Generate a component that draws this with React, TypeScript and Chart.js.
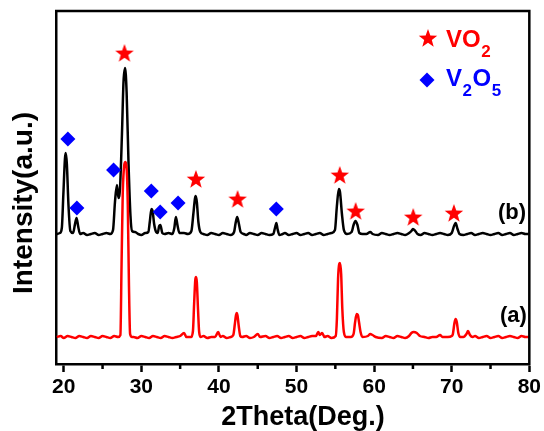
import React, { useEffect, useRef } from 'react';
import { Chart, registerables } from 'chart.js';

Chart.register(...registerables);

// x-axis (2Theta) tick values
const xTicks = [20, 30, 40, 50, 60, 70, 80];
const xMinorTicks = [25, 35, 45, 55, 65, 75];

// Pattern (a) — red  [2Theta, intensity]
const patternA: [number, number][] = [
  [19.1, 27], [19.6, 28], [20, 26], [20.5, 28], [21, 27], [21.5, 26], [22, 28], [22.5, 27], [23, 26], [23.5, 28], [24, 27],
  [24.5, 26], [25, 28], [25.5, 27], [26, 26], [26.5, 28], [27, 27], [27.3, 29], [27.45, 100], [27.6, 170], [27.8, 199],
  [27.95, 202], [28.1, 196], [28.25, 160], [28.4, 80], [28.55, 30], [28.8, 27], [29, 27], [29.5, 26], [30, 28], [30.5, 27], [31, 26],
  [31.5, 28], [32, 27], [32.5, 26], [33, 28], [33.5, 27], [34, 26], [34.5, 27], [35, 28], [35.5, 31], [35.8, 27],
  [36.4, 27], [36.65, 33], [36.8, 60], [36.95, 84], [37.05, 87], [37.15, 82], [37.3, 55], [37.45, 32], [37.65, 27], [38, 28], [38.5, 26], [39, 27],
  [39.5, 27], [39.9, 32], [40.2, 27], [40.5, 28], [41, 26], [41.5, 27], [41.85, 29], [42.05, 40], [42.2, 49], [42.3, 51], [42.4, 48], [42.55, 38],
  [42.75, 28], [43, 27], [43.5, 28], [44, 26], [44.5, 27], [45, 30], [45.3, 27], [46, 28], [46.5, 26], [47, 27],
  [47.5, 28], [48, 26], [48.5, 27], [49, 28], [49.5, 26], [50, 27], [50.5, 28], [51, 26], [51.5, 27], [52, 28],
  [52.5, 28], [52.8, 32], [53.0, 29], [53.3, 31], [53.6, 27], [54, 28], [54.5, 26], [55.05, 28], [55.2, 45], [55.35, 85],
  [55.5, 100], [55.6, 101], [55.75, 90], [55.9, 55], [56.1, 32], [56.4, 27], [57, 27], [57.35, 30], [57.55, 42], [57.75, 50], [57.9, 49], [58.05, 42],
  [58.25, 32], [58.5, 27], [59.2, 28], [59.5, 30], [59.8, 29], [60.2, 27], [61, 26], [61.5, 28], [62, 27], [62.5, 26],
  [63, 28], [63.5, 27], [64, 26], [64.5, 28], [64.8, 31], [65.1, 32], [65.5, 31], [65.9, 28], [66.5, 27], [67, 26],
  [67.5, 27], [68, 27], [68.5, 29], [68.8, 27], [69.5, 27], [70, 28], [70.15, 30], [70.35, 41], [70.5, 45], [70.65, 42], [70.85, 31], [71.1, 27],
  [71.5, 27], [71.9, 30], [72.1, 33], [72.35, 29], [72.7, 27], [73, 28], [73.5, 26], [74, 27], [74.5, 28], [75, 26],
  [75.5, 27], [76, 28], [76.5, 26], [77, 27], [77.5, 28], [78, 27], [78.5, 26], [79, 28], [79.5, 27], [80, 27],
];

// Pattern (b) — black  [2Theta, intensity]
const patternB: [number, number][] = [
  [19.1, 130], [19.5, 131], [19.75, 136], [19.95, 170], [20.15, 205], [20.25, 211], [20.4, 200], [20.6, 160], [20.85, 133], [21.2, 131], [21.45, 140],
  [21.65, 146], [21.85, 138], [22.1, 130], [22.5, 131], [23, 129], [23.5, 130], [24, 131], [24.5, 129], [25, 130], [25.5, 131],
  [26, 130], [26.35, 134], [26.6, 162], [26.85, 179], [27.05, 166], [27.25, 176], [27.5, 230], [27.7, 282], [27.9, 296], [28.1, 272], [28.35, 200],
  [28.6, 148], [28.8, 133], [29.2, 132], [29.6, 130], [30, 129], [30.5, 131], [30.9, 132], [31.1, 143], [31.3, 155], [31.45, 153], [31.65, 140],
  [31.9, 132], [32.1, 131], [32.3, 138], [32.45, 139], [32.7, 131], [33, 130], [33.5, 131], [34, 130], [34.25, 136], [34.45, 147],
  [34.65, 139], [34.9, 131], [35.5, 131], [36, 130], [36.45, 133], [36.7, 150], [36.9, 165], [37.0, 168], [37.15, 162], [37.35, 142], [37.6, 132], [38, 130],
  [38.5, 129], [39, 131], [39.5, 130], [40, 129], [40.5, 131], [41, 130], [41.5, 129], [41.95, 132], [42.15, 141], [42.35, 147],
  [42.55, 141], [42.8, 132], [43.2, 130], [43.5, 129], [44, 131], [44.5, 130], [45, 129], [45.5, 131], [46, 130], [46.5, 129],
  [47, 130], [47.25, 137], [47.4, 141], [47.55, 135], [47.8, 129], [48.2, 130], [48.5, 131], [49, 129], [49.5, 130], [50, 131],
  [50.5, 129], [51, 130], [51.5, 131], [52, 129], [52.5, 130], [53, 131], [53.5, 129], [54, 130], [54.5, 131], [54.95, 134],
  [55.2, 158], [55.45, 175], [55.6, 172], [55.85, 150], [56.1, 134], [56.5, 130], [57.1, 132], [57.35, 139], [57.6, 143], [57.85, 139],
  [58.1, 131], [58.5, 130], [59, 130], [59.5, 132], [59.8, 130], [60.5, 129], [61, 131], [61.5, 130], [62, 129], [62.5, 130],
  [63, 131], [63.5, 130], [64, 129], [64.5, 131], [64.8, 133], [65.0, 135], [65.3, 133], [65.6, 130], [66, 129], [66.5, 131],
  [67, 130], [67.5, 129], [68, 130], [68.5, 131], [69, 130], [69.5, 129], [70, 131], [70.3, 138], [70.5, 141], [70.75, 135],
  [71, 130], [71.5, 129], [72, 130], [72.5, 131], [73, 129], [73.5, 130], [74, 131], [74.5, 130], [75, 129], [75.5, 130],
  [76, 131], [76.5, 129], [77, 130], [77.5, 131], [78, 129], [78.5, 130], [79, 131], [79.5, 130], [80, 130],
];

// Phase markers
const vo2X = [27.82, 37.03, 42.4, 55.57, 57.62, 65.04, 70.28];
const vo2Y = [311, 185, 165, 189, 153, 147, 151];
const v2o5X = [20.53, 21.69, 26.42, 31.28, 32.43, 34.73, 47.39];
const v2o5Y = [225, 156, 194, 173, 152, 161, 155];

const FONT = "'Liberation Sans', Arial, sans-serif";
const RED = '#ff0000';
const BLUE = '#0000ff';

function starPath(ctx: CanvasRenderingContext2D, cx: number, cy: number, R: number, r: number) {
  ctx.beginPath();
  for (let i = 0; i < 10; i++) {
    const rad = i % 2 === 0 ? R : r;
    const a = -Math.PI / 2 + (i * Math.PI) / 5;
    const px = cx + rad * Math.cos(a);
    const py = cy + rad * Math.sin(a);
    if (i === 0) ctx.moveTo(px, py);
    else ctx.lineTo(px, py);
  }
  ctx.closePath();
}

function makeStar(): HTMLCanvasElement {
  const c = document.createElement('canvas');
  c.width = 22;
  c.height = 22;
  const g = c.getContext('2d')!;
  g.fillStyle = RED;
  starPath(g, 11, 11.8, 9.7, 4.0);
  g.fill();
  return c;
}

export default function App() {
  const ref = useRef<HTMLCanvasElement>(null);

  useEffect(() => {
    if (!ref.current) return;
    const star = makeStar();

    const decor = {
      id: 'decor',
      afterDraw(chart: any) {
        const ctx: CanvasRenderingContext2D = chart.ctx;
        const { left, right, top, bottom } = chart.chartArea;
        const xs = chart.scales.x;
        ctx.save();
        // top & right frame
        ctx.strokeStyle = '#000';
        ctx.lineWidth = 2.5;
        ctx.beginPath();
        ctx.moveTo(left - 1, top);
        ctx.lineTo(right, top);
        ctx.lineTo(right, bottom + 1);
        ctx.stroke();
        // minor ticks
        ctx.beginPath();
        for (const v of xMinorTicks) {
          const px = xs.getPixelForValue(v);
          ctx.moveTo(px, bottom);
          ctx.lineTo(px, bottom + 5);
        }
        ctx.stroke();

        // axis titles
        ctx.fillStyle = '#000';
        ctx.font = `bold 27px ${FONT}`;
        ctx.textAlign = 'center';
        ctx.textBaseline = 'alphabetic';
        ctx.fillText('2Theta(Deg.)', 303, 425);
        ctx.save();
        ctx.translate(32, 203);
        ctx.rotate(-Math.PI / 2);
        ctx.font = `bold 28px ${FONT}`;
        ctx.fillText('Intensity(a.u.)', 0, 0);
        ctx.restore();

        // pattern labels
        ctx.textAlign = 'left';
        ctx.font = `bold 22px ${FONT}`;
        ctx.fillText('(b)', 498, 219);
        ctx.fillText('(a)', 500, 322);

        // legend
        ctx.drawImage(star, 428 - 11, 38 - 11);
        ctx.fillStyle = BLUE;
        ctx.beginPath();
        ctx.moveTo(427, 72.5);
        ctx.lineTo(434.5, 80);
        ctx.lineTo(427, 87.5);
        ctx.lineTo(419.5, 80);
        ctx.closePath();
        ctx.fill();

        const big = `bold 24px ${FONT}`;
        const small = `bold 17px ${FONT}`;
        const drawParts = (parts: [string, boolean][], x: number, base: number, color: string) => {
          ctx.fillStyle = color;
          let cx = x;
          for (const [t, sub] of parts) {
            ctx.font = sub ? small : big;
            ctx.fillText(t, cx, sub ? base + 10 : base);
            cx += ctx.measureText(t).width + 0.5;
          }
        };
        drawParts([['VO', false], ['2', true]], 446, 47, RED);
        drawParts([['V', false], ['2', true], ['O', false], ['5', true]], 446, 86, BLUE);
        ctx.restore();
      },
    };

    const chart = new Chart(ref.current, {
      type: 'line',
      data: {
        datasets: [
          {
            label: 'VO2',
            type: 'scatter',
            data: vo2X.map((x, i) => ({ x, y: vo2Y[i] })),
            pointStyle: star as any,
            pointRadius: 9,
            showLine: false,
          } as any,
          {
            label: 'V2O5',
            type: 'scatter',
            data: v2o5X.map((x, i) => ({ x, y: v2o5Y[i] })),
            pointStyle: 'rectRot',
            pointRadius: 7.5,
            backgroundColor: BLUE,
            borderColor: BLUE,
            borderWidth: 0,
            showLine: false,
          } as any,
          {
            label: '(a)',
            data: patternA.map(([x, y]) => ({ x, y })),
            borderColor: RED,
            borderWidth: 2.5,
            pointRadius: 0,
            cubicInterpolationMode: 'monotone',
            fill: false,
          },
          {
            label: '(b)',
            data: patternB.map(([x, y]) => ({ x, y })),
            borderColor: '#000',
            borderWidth: 2.5,
            pointRadius: 0,
            cubicInterpolationMode: 'monotone',
            fill: false,
          },
        ],
      },
      options: {
        responsive: false,
        animation: false,
        events: [],
        layout: { padding: { top: 11, right: 10, left: 0, bottom: 0 } },
        plugins: { legend: { display: false }, tooltip: { enabled: false } },
        scales: {
          x: {
            type: 'linear',
            min: 19,
            max: 80,
            afterBuildTicks: (s: any) => {
              s.ticks = xTicks.map((v) => ({ value: v }));
            },
            afterFit: (s: any) => {
              s.height = 67;
            },
            grid: {
              display: true,
              drawOnChartArea: false,
              drawTicks: true,
              tickLength: 8,
              tickWidth: 2.5,
              tickColor: '#000',
            },
            border: { display: true, color: '#000', width: 2.5 },
            ticks: {
              color: '#000',
              font: { family: FONT, size: 21, weight: 'bold' },
              padding: 3,
              maxRotation: 0,
              autoSkip: false,
              includeBounds: false,
            },
          },
          y: {
            type: 'linear',
            min: 0,
            max: 353,
            afterFit: (s: any) => {
              s.width = 56;
            },
            grid: { display: false },
            border: { display: true, color: '#000', width: 2.5 },
            ticks: { display: false },
          },
        },
      } as any,
      plugins: [decor],
    });
    return () => chart.destroy();
  }, []);

  return (
    <div style={{ position: 'fixed', left: 0, top: 0, width: 544, height: 431, background: '#fff' }}>
      <canvas ref={ref} width={544} height={431} style={{ display: 'block' }} />
    </div>
  );
}
